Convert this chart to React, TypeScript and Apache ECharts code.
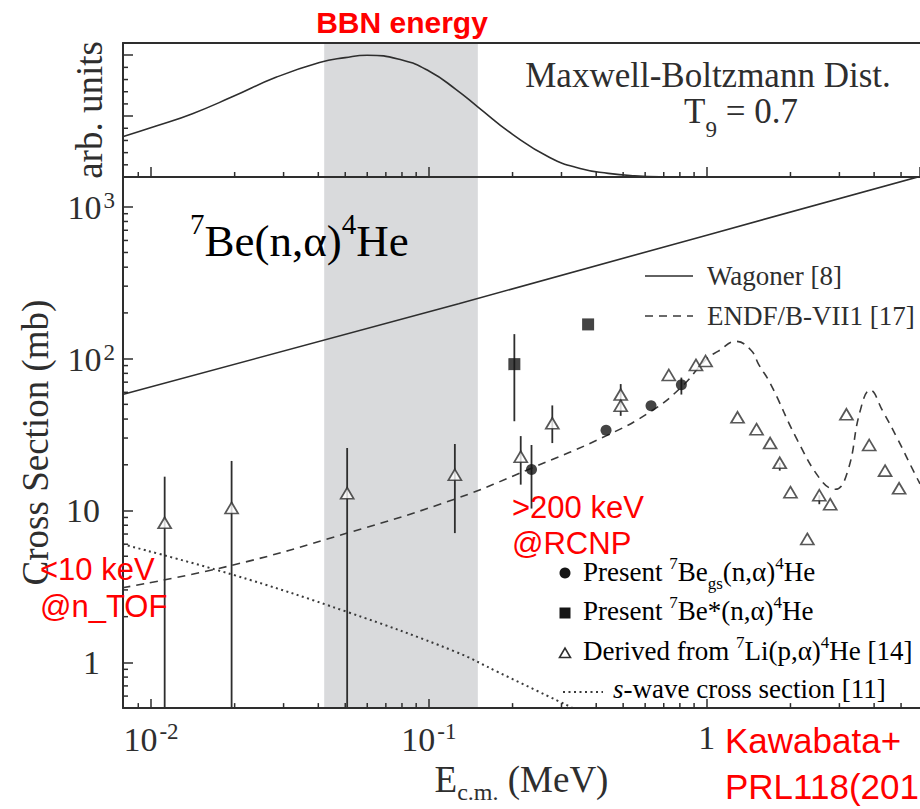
import React, { useEffect, useRef } from 'react';
import * as echarts from 'echarts';

// ---------- axis ranges ----------
const X_MIN = 0.00793;
const X_MAX = 5.85;
const Y_MIN = 0.5;
const Y_MAX = 1570;
const TOP_Y_MAX = 1.1;

// BBN energy window (MeV)
const bbnBand = [0.042, 0.15];

// ---------- top panel: Maxwell-Boltzmann distribution (arb. units) ----------
const mbE = [0.0079, 0.0105, 0.0141, 0.0197, 0.0283, 0.0404, 0.05, 0.06, 0.08, 0.1, 0.125, 0.151, 0.2, 0.272, 0.35, 0.442, 0.55, 0.7, 1.0];
const mbV = [0.33, 0.42, 0.52, 0.66, 0.82, 0.94, 0.98, 1.0, 0.96, 0.87, 0.72, 0.57, 0.35, 0.16, 0.07, 0.03, 0.01, 0.002, 0];

// ---------- bottom panel curves ----------
const wagonerE = [0.0079, 0.128, 1.0, 5.85];
const wagonerS = [58, 230, 650, 1585];

const endfE = [0.0079, 0.0195, 0.0508, 0.124, 0.234, 0.434, 0.63, 0.81, 1.0, 1.1, 1.27, 1.44, 1.54, 1.69, 2.12, 2.6, 2.9, 3.21, 3.56, 3.87, 4.3, 4.84, 5.6, 5.85];
const endfS = [3.1, 4.35, 7.1, 11.9, 19.0, 31, 45, 65, 100, 112, 130, 114, 91, 69, 29, 15.5, 13.8, 18, 45, 62, 45, 30, 17.5, 15];

const sWaveE = [0.0079, 0.0195, 0.0508, 0.124, 0.178, 0.33];
const sWaveS = [6.0, 3.8, 2.15, 1.18, 0.86, 0.5];

// ---------- bottom panel data points ----------
const gsE = [0.234, 0.434, 0.63, 0.81];
const gsS = [18.6, 33.8, 49, 67.3];
const gsErrE = [0.234, 0.81];
const gsErrLo = [10.3, 58];
const gsErrHi = [27, 75];

const starE = [0.203, 0.374];
const starS = [92, 168];
const starErrE = [0.203];
const starErrLo = [38.7];
const starErrHi = [145];

const liE = [0.0112, 0.0195, 0.0508, 0.124, 0.214, 0.278, 0.49, 0.49, 0.73, 0.914, 0.99, 1.29, 1.51, 1.69, 1.83, 2.0, 2.3, 2.54, 2.78, 3.18, 3.84, 4.38, 4.92];
const liS = [8.3, 10.4, 13.0, 17.2, 22.6, 37.5, 58, 49, 78, 90.9, 96.5, 41.1, 34.3, 27.8, 20.6, 13.2, 6.5, 12.6, 11.0, 43, 27, 18.3, 14.0];
const liErrE = [0.0112, 0.0195, 0.0508, 0.124, 0.214, 0.278, 0.49, 1.83, 2.54];
const liErrLo = [0.5, 0.5, 0.5, 7.1, 14.8, 27.8, 42, 18.3, 11.0];
const liErrHi = [16.7, 21.2, 25.8, 27.4, 30.9, 49.2, 68, 20.6, 12.6];

// ---------- minor tick values ----------
const xMinorTicks = [0.009, 0.02, 0.03, 0.04, 0.05, 0.06, 0.07, 0.08, 0.09, 0.2, 0.3, 0.4, 0.5, 0.6, 0.7, 0.8, 0.9, 2, 3, 4, 5];
const yMinorTicks = [0.6, 0.7, 0.8, 0.9, 2, 3, 4, 5, 6, 7, 8, 9, 20, 30, 40, 50, 60, 70, 80, 90, 200, 300, 400, 500, 600, 700, 800, 900];
const topYMinorTicks = [0.1, 0.2, 0.3, 0.4, 0.6, 0.7, 0.8, 0.9];

const SERIF = '"Liberation Serif", "Times New Roman", serif';
const SANS = '"Liberation Sans", Arial, sans-serif';
const INK = '#2e2e2e';
const RED = '#ff0000';
const BAND = '#d9dadc';

const zip2 = (a: number[], b: number[]) => a.map((v, i) => [v, b[i]]);
const zip3 = (a: number[], b: number[], c: number[]) => a.map((v, i) => [v, b[i], c[i]]);

function buildOption(): any {
  const lineAxis = { show: true, onZero: false, lineStyle: { color: INK, width: 2 } };

  const supLabel = (v: number) => {
    const l = Math.log10(v);
    const r = Math.round(l);
    if (Math.abs(l - r) > 1e-6) return '';
    if (r === 0) return '{b|1}';
    return `{b|10}{s|${r}}`;
  };
  const supLabelY = (v: number) => {
    const l = Math.log10(v);
    const r = Math.round(l);
    if (Math.abs(l - r) > 1e-6) return '';
    if (r === 0) return '{b|1}{p| }';
    if (r === 1) return '{b|10}{p| }';
    return `{b|10}{s|${r}}`;
  };
  const tickRich = {
    b: { fontFamily: SERIF, fontSize: 34, color: INK, verticalAlign: 'bottom' },
    s: { fontFamily: SERIF, fontSize: 23, color: INK, verticalAlign: 'bottom', padding: [0, 0, 13, 2] },
    p: { fontFamily: SERIF, fontSize: 23, color: INK, width: 15, verticalAlign: 'bottom' },
  };

  const bandSeries = (xi: number, yi: number, lo: number, hi: number) => ({
    type: 'custom',
    xAxisIndex: xi,
    yAxisIndex: yi,
    silent: true,
    z: 1,
    encode: { x: [0, 1], y: [2, 3] },
    data: [[bbnBand[0], bbnBand[1], lo, hi]],
    renderItem: (_p: any, api: any) => {
      const a = api.coord([api.value(0), api.value(3)]);
      const b = api.coord([api.value(1), api.value(2)]);
      return { type: 'rect', shape: { x: a[0], y: a[1], width: b[0] - a[0], height: b[1] - a[1] }, style: { fill: BAND } };
    },
  });

  const minorX = (xi: number, yi: number, y0: number) => ({
    type: 'custom',
    xAxisIndex: xi,
    yAxisIndex: yi,
    silent: true,
    z: 12,
    encode: { x: 0, y: 1 },
    data: xMinorTicks.map((v) => [v, y0]),
    renderItem: (_p: any, api: any) => {
      const p = api.coord([api.value(0), api.value(1)]);
      return { type: 'line', shape: { x1: p[0], y1: p[1], x2: p[0], y2: p[1] - 5 }, style: { stroke: INK, lineWidth: 1.5 } };
    },
  });

  const minorY = (xi: number, yi: number, vals: number[]) => ({
    type: 'custom',
    xAxisIndex: xi,
    yAxisIndex: yi,
    silent: true,
    z: 12,
    encode: { x: 0, y: 1 },
    data: vals.map((v) => [X_MIN, v]),
    renderItem: (_p: any, api: any) => {
      const p = api.coord([api.value(0), api.value(1)]);
      return { type: 'line', shape: { x1: p[0], y1: p[1], x2: p[0] + 5, y2: p[1] }, style: { stroke: INK, lineWidth: 1.5 } };
    },
  });

  const errBars = (name: string, rows: number[][]) => ({
    type: 'custom',
    name,
    xAxisIndex: 2,
    yAxisIndex: 1,
    silent: true,
    z: 4,
    encode: { x: 0, y: [1, 2] },
    data: rows,
    renderItem: (_p: any, api: any) => {
      const a = api.coord([api.value(0), api.value(1)]);
      const b = api.coord([api.value(0), api.value(2)]);
      return { type: 'line', shape: { x1: a[0], y1: a[1], x2: b[0], y2: b[1] }, style: { stroke: INK, lineWidth: 1.8 } };
    },
  });

  const legRich = {
    t: { fontFamily: SERIF, fontSize: 27, color: INK, verticalAlign: 'bottom', padding: [0, 0, 6, 0] },
    i: { fontFamily: SERIF, fontSize: 27, fontStyle: 'italic', color: INK, verticalAlign: 'bottom', padding: [0, 0, 6, 0] },
    sup: { fontFamily: SERIF, fontSize: 17, color: INK, verticalAlign: 'bottom', padding: [0, 0, 20, 0] },
    sub: { fontFamily: SERIF, fontSize: 17, color: INK, verticalAlign: 'bottom' },
  };

  const redText = (text: string, x: number, y: number, size: number, bold = false, align = 'left') => ({
    type: 'text',
    x,
    y,
    z: 50,
    style: { text, fontFamily: SANS, fontSize: size, fontWeight: bold ? 'bold' : 'normal', fill: RED, align, verticalAlign: 'middle' },
  });

  return {
    animation: false,
    backgroundColor: '#ffffff',
    grid: [
      { left: 123, right: -3, top: 43, height: 134 },
      { left: 123, right: -3, top: 177, height: 537 },
    ],
    xAxis: [
      {
        gridIndex: 0, type: 'log', min: X_MIN, max: X_MAX, position: 'bottom', z: 10,
        axisLine: lineAxis,
        axisTick: { show: true, inside: true, length: 10, lineStyle: { color: INK, width: 1.5 } },
        axisLabel: { show: false }, splitLine: { show: false },
      },
      {
        gridIndex: 0, type: 'log', min: X_MIN, max: X_MAX, position: 'top', z: 10,
        axisLine: lineAxis, axisTick: { show: false }, axisLabel: { show: false }, splitLine: { show: false },
      },
      {
        gridIndex: 1, type: 'log', min: X_MIN, max: X_MAX, position: 'bottom', z: 10,
        axisLine: lineAxis,
        axisTick: { show: true, inside: true, length: 9, lineStyle: { color: INK, width: 1.5 } },
        axisLabel: { show: true, margin: 12, showMinLabel: false, showMaxLabel: false, formatter: supLabel, rich: tickRich },
        splitLine: { show: false },
        name: '{e|E}{sub|c.m.}{e| (MeV)}',
        nameLocation: 'middle',
        nameGap: 52,
        nameTextStyle: {
          rich: {
            e: { fontFamily: SERIF, fontSize: 37, color: INK, verticalAlign: 'bottom', padding: [0, 0, 6, 0] },
            sub: { fontFamily: SERIF, fontSize: 24, color: INK, verticalAlign: 'bottom' },
          },
        },
      },
    ],
    yAxis: [
      {
        gridIndex: 0, type: 'value', min: 0, max: TOP_Y_MAX, interval: 0.5, z: 10,
        axisLine: lineAxis,
        axisTick: { show: true, inside: true, length: 10, lineStyle: { color: INK, width: 1.5 } },
        axisLabel: { show: false }, splitLine: { show: false },
        name: 'arb. units', nameLocation: 'middle', nameGap: 15,
        nameTextStyle: { fontFamily: SERIF, fontSize: 37, color: INK },
      },
      {
        gridIndex: 1, type: 'log', min: Y_MIN, max: Y_MAX, z: 10,
        axisLine: lineAxis,
        axisTick: { show: true, inside: true, length: 10, lineStyle: { color: INK, width: 1.5 } },
        axisLabel: { show: true, margin: 8, showMinLabel: false, showMaxLabel: false, formatter: supLabelY, rich: tickRich },
        splitLine: { show: false },
        name: 'Cross Section (mb)', nameLocation: 'middle', nameGap: 69,
        nameTextStyle: { fontFamily: SERIF, fontSize: 37, color: INK },
      },
    ],
    series: [
      bandSeries(0, 0, 0, TOP_Y_MAX),
      bandSeries(2, 1, Y_MIN, Y_MAX),
      minorX(0, 0, 0),
      minorX(2, 1, Y_MIN),
      minorY(0, 0, topYMinorTicks),
      minorY(2, 1, yMinorTicks),
      {
        name: 'Maxwell-Boltzmann Dist.', type: 'line', xAxisIndex: 0, yAxisIndex: 0, z: 3,
        data: zip2(mbE, mbV), smooth: 0.5, showSymbol: false, symbol: 'none',
        lineStyle: { color: INK, width: 1.6 },
      },
      {
        name: 'Wagoner [8]', type: 'line', xAxisIndex: 2, yAxisIndex: 1, z: 3,
        data: zip2(wagonerE, wagonerS), showSymbol: false, symbol: 'none',
        lineStyle: { color: INK, width: 1.6 },
      },
      {
        name: 'ENDF/B-VII1 [17]', type: 'line', xAxisIndex: 2, yAxisIndex: 1, z: 3,
        data: zip2(endfE, endfS), smooth: 0.45, showSymbol: false, symbol: 'none',
        lineStyle: { color: '#3a3a3a', width: 1.6, type: [8, 6] },
      },
      {
        name: 's-wave cross section [11]', type: 'line', xAxisIndex: 2, yAxisIndex: 1, z: 3,
        data: zip2(sWaveE, sWaveS), smooth: 0.4, showSymbol: false, symbol: 'none',
        lineStyle: { color: '#3a3a3a', width: 2, type: [2, 3.5] },
      },
      errBars('li err', zip3(liErrE, liErrLo, liErrHi)),
      errBars('gs err', zip3(gsErrE, gsErrLo, gsErrHi)),
      errBars('star err', zip3(starErrE, starErrLo, starErrHi)),
      {
        name: 'Derived from 7Li(p,α)4He [14]', type: 'scatter', xAxisIndex: 2, yAxisIndex: 1, z: 5,
        data: zip2(liE, liS), symbol: 'triangle', symbolSize: [13, 11],
        itemStyle: { color: '#ffffff', borderColor: INK, borderWidth: 1.7 },
      },
      {
        name: 'Present 7Be_gs(n,α)4He', type: 'scatter', xAxisIndex: 2, yAxisIndex: 1, z: 5,
        data: zip2(gsE, gsS), symbol: 'circle', symbolSize: 11,
        itemStyle: { color: '#151515' },
      },
      {
        name: 'Present 7Be*(n,α)4He', type: 'scatter', xAxisIndex: 2, yAxisIndex: 1, z: 5,
        data: zip2(starE, starS), symbol: 'rect', symbolSize: 12,
        itemStyle: { color: '#151515' },
      },
    ],
    graphic: [
      // panel texts
      {
        type: 'text', x: 708, y: 75, z: 40,
        style: { text: 'Maxwell-Boltzmann Dist.', fontFamily: SERIF, fontSize: 35, fill: INK, align: 'center', verticalAlign: 'middle' },
      },
      {
        type: 'text', x: 741, y: 117, z: 40,
        style: {
          text: '{t|T}{sub|9}{t| = 0.7}', align: 'center', verticalAlign: 'middle',
          rich: {
            t: { fontFamily: SERIF, fontSize: 35, fill: INK, color: INK, verticalAlign: 'bottom', padding: [0, 0, 12, 0] },
            sub: { fontFamily: SERIF, fontSize: 23, fill: INK, color: INK, verticalAlign: 'bottom' },
          },
        },
      },
      {
        type: 'text', x: 190, y: 263, z: 40,
        style: {
          text: '{sup|7}{t|Be(n,α)}{sup|4}{t|He}', align: 'left', verticalAlign: 'bottom',
          rich: {
            t: { fontFamily: SERIF, fontSize: 45, color: INK, verticalAlign: 'bottom' },
            sup: { fontFamily: SERIF, fontSize: 29, color: INK, verticalAlign: 'bottom', padding: [0, 0, 25, 0] },
          },
        },
      },
      // upper legend
      { type: 'line', z: 40, shape: { x1: 645, y1: 276, x2: 693, y2: 276 }, style: { stroke: INK, lineWidth: 1.6 } },
      {
        type: 'text', x: 707, y: 276, z: 40,
        style: { text: 'Wagoner [8]', fontFamily: SERIF, fontSize: 27, fill: INK, align: 'left', verticalAlign: 'middle' },
      },
      { type: 'line', z: 40, shape: { x1: 645, y1: 316, x2: 693, y2: 316 }, style: { stroke: '#3a3a3a', lineWidth: 1.6, lineDash: [8, 6] } },
      {
        type: 'text', x: 707, y: 316, z: 40,
        style: { text: 'ENDF/B-VII1 [17]', fontFamily: SERIF, fontSize: 27, fill: INK, align: 'left', verticalAlign: 'middle' },
      },
      // lower legend
      { type: 'circle', z: 40, shape: { cx: 565, cy: 573, r: 5.5 }, style: { fill: '#151515' } },
      {
        type: 'text', x: 583, y: 573, z: 40,
        style: { text: '{t|Present }{sup|7}{t|Be}{sub|gs}{t|(n,α)}{sup|4}{t|He}', align: 'left', verticalAlign: 'middle', rich: legRich },
      },
      { type: 'rect', z: 40, shape: { x: 559.5, y: 607.5, width: 11, height: 11 }, style: { fill: '#151515' } },
      {
        type: 'text', x: 583, y: 612, z: 40,
        style: { text: '{t|Present }{sup|7}{t|Be*(n,α)}{sup|4}{t|He}', align: 'left', verticalAlign: 'middle', rich: legRich },
      },
      {
        type: 'polygon', z: 40, shape: { points: [[559.5, 657.5], [570.5, 657.5], [565, 648]] },
        style: { fill: '#ffffff', stroke: INK, lineWidth: 1.6 },
      },
      {
        type: 'text', x: 583, y: 652, z: 40,
        style: { text: '{t|Derived from }{sup|7}{t|Li(p,α)}{sup|4}{t|He [14]}', align: 'left', verticalAlign: 'middle', rich: legRich },
      },
      { type: 'line', z: 40, shape: { x1: 563, y1: 692, x2: 603, y2: 692 }, style: { stroke: '#3a3a3a', lineWidth: 2, lineDash: [2, 3.5] } },
      {
        type: 'text', x: 613, y: 692, z: 40,
        style: { text: '{i|s}{t|-wave cross section [11]}', align: 'left', verticalAlign: 'middle', rich: legRich },
      },
      // red annotations
      redText('BBN energy', 402, 22.5, 30, true, 'center'),
      redText('<10 keV', 40, 569, 31),
      redText('@n_TOF', 40, 606, 31),
      redText('>200 keV', 512, 507, 31),
      redText('@RCNP', 512, 543, 31),
      redText('Kawabata+', 725, 740, 35),
      redText('PRL118(2017)', 725, 786, 35),
    ],
  };
}

export default function App() {
  const ref = useRef<HTMLDivElement | null>(null);
  useEffect(() => {
    if (!ref.current) return;
    const chart = echarts.init(ref.current, undefined, { renderer: 'svg' });
    chart.setOption(buildOption());
    return () => chart.dispose();
  }, []);
  return (
    <div
      ref={ref}
      style={{ position: 'fixed', left: 0, top: 0, width: 920, height: 809, background: '#fff', overflow: 'hidden' }}
    />
  );
}
